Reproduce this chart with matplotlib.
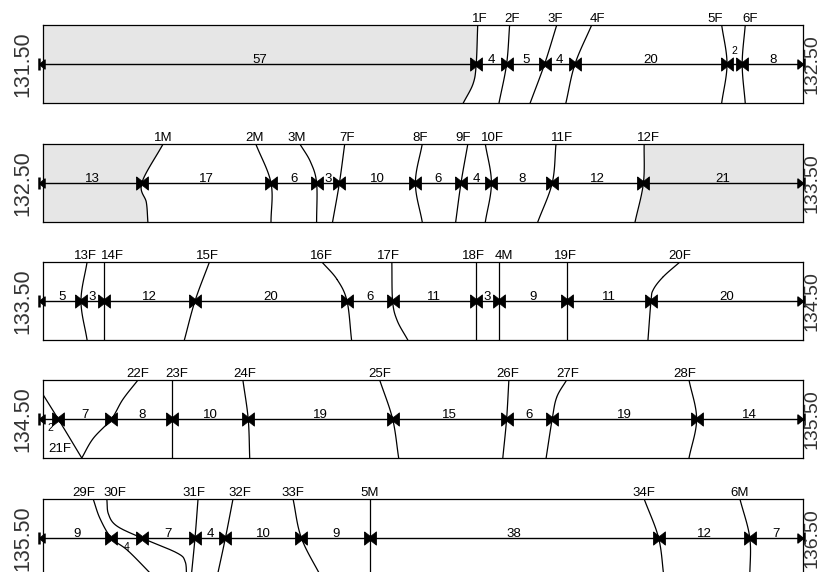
import numpy as np
import matplotlib.pyplot as plt

plt.rcParams['font.family'] = ['Liberation Sans', 'DejaVu Sans']

# depth at the left end of each core row (m)
depth = [131.5, 132.5, 133.5, 134.5, 135.5]

# fracture spacing along each row (cm), fracture names,
# where each trace meets the top / bottom edge (cm) and label position (cm)
gaps_1 = [57, 4, 5, 4, 20, 2, 8]
names_1 = ['1F', '2F', '3F', '4F', '5F', '6F']
top_1 = [57.2, 61.4, 67.6, 72.2, 89.3, 92.4]
bot_1 = [55.3, 60.0, 64.1, 68.8, 89.3, 92.4]
tag_1 = [57.5, 61.7, 67.4, 72.9, 88.4, 93.0]

gaps_2 = [13, 17, 6, 3, 10, 6, 4, 8, 12, 21]
names_2 = ['1M', '2M', '3M', '7F', '8F', '9F', '10F', '11F', '12F']
top_2 = [15.8, 28.0, 33.8, 39.7, 49.9, 55.9, 58.2, 67.5, 79.1]
bot_2 = [13.8, 30.0, 36.0, 38.1, 49.9, 54.3, 58.2, 65.1, 77.9]
tag_2 = [15.8, 27.9, 33.4, 40.0, 49.6, 55.3, 59.1, 68.3, 79.6]

gaps_3 = [5, 3, 12, 20, 6, 11, 3, 9, 11, 20]
names_3 = ['13F', '14F', '15F', '16F', '17F', '18F', '4M', '19F', '20F']
top_3 = [5.8, 8.0, 21.9, 36.7, 45.9, 57.0, 60.0, 69.0, 83.8]
bot_3 = [5.8, 8.0, 18.6, 40.6, 48.0, 57.0, 60.0, 69.0, 79.6]
tag_3 = [5.6, 9.2, 21.7, 36.7, 45.4, 56.6, 60.7, 68.7, 83.8]

gaps_4 = [2, 7, 8, 10, 19, 15, 6, 19, 14]
names_4 = ['21F', '22F', '23F', '24F', '25F', '26F', '27F', '28F']
top_4 = [-1.2, 12.5, 17.0, 26.3, 44.3, 61.3, 68.9, 85.0]
bot_4 = [5.1, 5.1, 17.0, 27.2, 46.8, 60.5, 66.2, 85.0]
tag_4 = [2.2, 12.5, 17.6, 26.6, 44.3, 61.2, 69.1, 84.5]

gaps_5 = [9, 4, 7, 4, 10, 9, 38, 12, 7]
names_5 = ['29F', '30F', '31F', '32F', '33F', '5M', '34F', '6M']
top_5 = [6.6, 8.4, 20.4, 25.0, 32.9, 43.0, 79.1, 91.7]
bot_5 = [14.6, 18.9, 19.5, 22.9, 36.6, 43.0, 81.7, 93.0]
tag_5 = [5.3, 9.5, 19.9, 25.9, 32.9, 43.0, 79.0, 91.7]

# extra points (cm, relative height -1..1)
bends = {
    '1F': [(56.6, -0.5)],
    '1M': [(13.6, -0.5)],
    '3M': [(35.2, 0.54)],
    '16F': [(38.7, 0.55)],
    '17F': [(46.6, -0.5)],
    '20F': [(81.6, 0.62), (80.3, 0.29)],
    '22F': [(10.5, 0.5), (6.6, -0.5)],
    '27F': [(67.6, 0.56)],
    '29F': [(7.5, 0.5), (11.2, -0.33)],
    '30F': [(8.6, 0.62), (9.7, 0.31), (17.6, -0.38), (18.7, -0.6)],
}
shaded = {'1F': 'left', '1M': 'left', '12F': 'right'}
gap_high = {(0, 5)}
gap_low = {(3, 0), (4, 1)}

rows = [(gaps_1, names_1, top_1, bot_1, tag_1),
        (gaps_2, names_2, top_2, bot_2, tag_2),
        (gaps_3, names_3, top_3, bot_3, tag_3),
        (gaps_4, names_4, top_4, bot_4, tag_4),
        (gaps_5, names_5, top_5, bot_5, tag_5)]


def spline(pts, n=25):
    p = np.asarray(pts, float)
    p = np.vstack([2 * p[0] - p[1], p, 2 * p[-1] - p[-2]])
    t = np.linspace(0, 1, n)[:, None]
    out = []
    for i in range(1, len(p) - 2):
        p0, p1, p2, p3 = p[i - 1], p[i], p[i + 1], p[i + 2]
        out.append(0.5 * (2 * p1 + (-p0 + p2) * t
                          + (2 * p0 - 5 * p1 + 4 * p2 - p3) * t ** 2
                          + (-p0 + 3 * p1 - 3 * p2 + p3) * t ** 3))
    return np.vstack(out)


bow = [(-0.9, 1), (0, 0.3), (0.9, 1), (0.9, -1), (0, -0.3), (-0.9, -1), (-0.9, 1)]
tri_l = [(0, 0), (1.0, 0.8), (1.0, -0.8), (0, 0)]
tri_r = [(0, 0), (-1.0, 0.8), (-1.0, -0.8), (0, 0)]

W, H = 823, 572
fig = plt.figure(figsize=(W / 100, H / 100), dpi=100, facecolor='white')

row_top = [25, 144, 262, 380, 499]
row_h = 78

for r, (gaps, names, tops, bots, tags) in enumerate(rows):
    ax = fig.add_axes([43 / W, 1 - (row_top[r] + row_h) / H, 760 / W, row_h / H])
    ax.set_xlim(0, 100)
    ax.set_ylim(-1, 1)
    ax.set_xticks([])
    ax.set_yticks([])
    for s in ax.spines.values():
        s.set_linewidth(0.9)
        s.set_zorder(5)

    edges = np.concatenate([[0], np.cumsum(gaps)])
    marks = edges[1:-1]

    for k, name in enumerate(names):
        knots = [(tops[k], 1.0), (marks[k], 0.0), (bots[k], -1.0)] + bends.get(name, [])
        knots.sort(key=lambda q: -q[1])
        c = spline(knots)
        ax.plot(c[:, 0], c[:, 1], color='k', lw=0.9, zorder=3)
        if name in shaded:
            if shaded[name] == 'left':
                ax.fill_betweenx(c[:, 1], 0, c[:, 0], color='#e6e6e6', lw=0, zorder=1)
            else:
                ax.fill_betweenx(c[:, 1], c[:, 0], 100, color='#e6e6e6', lw=0, zorder=1)
        if name == '21F':
            ax.text(tags[k], -0.78, name, fontsize=9.5, ha='center', va='center')
        else:
            ax.annotate(name, (tags[k], 1), xytext=(0, 2), textcoords='offset points',
                        ha='center', va='baseline', fontsize=9.5, annotation_clip=False)

    ax.plot([0, 100], [0, 0], color='k', lw=1, zorder=4)
    ax.plot(marks, np.zeros(len(marks)), ls='none', marker=bow, ms=9.5, mew=0.6,
            color='k', zorder=6)
    ax.plot([-0.5], [0], ls='none', marker=tri_l, ms=8, color='k', zorder=6, clip_on=False)
    ax.plot([100], [0], ls='none', marker=tri_r, ms=8, color='k', zorder=6, clip_on=False)
    ax.plot([-0.5, 100.1], [0, 0], ls='none', marker='|', ms=9, mew=1.8, color='k',
            zorder=6, clip_on=False)

    for i, g in enumerate(gaps):
        xm = (edges[i] + edges[i + 1]) / 2
        if (r, i) in gap_low:
            ax.annotate(str(g), (xm, 0), xytext=(0, -3), textcoords='offset points',
                        ha='center', va='top', fontsize=7.5)
        elif (r, i) in gap_high:
            ax.annotate(str(g), (xm, 0), xytext=(0, 7), textcoords='offset points',
                        ha='center', va='baseline', fontsize=7.5)
        else:
            ax.annotate(str(g), (xm, 0), xytext=(0, 1), textcoords='offset points',
                        ha='center', va='baseline', fontsize=9.5)

    yc = 1 - (row_top[r] + row_h / 2) / H
    fig.text(23 / W, yc, '%.2f' % depth[r], rotation=90, ha='center', va='center',
             fontsize=15.5, color='#333333')
    fig.text(812 / W, yc, '%.2f' % (depth[r] + 1), rotation=90, ha='center', va='center',
             fontsize=14, color='#333333')

fig.savefig('out.png', dpi=100)
